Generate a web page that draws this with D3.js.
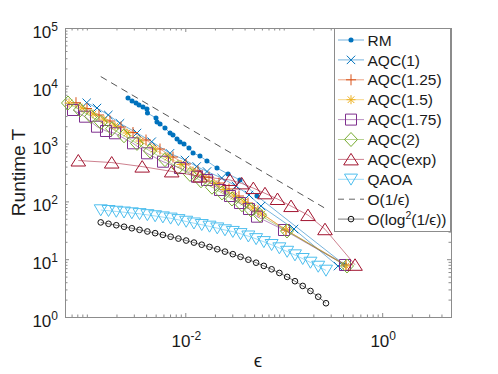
<!DOCTYPE html>
<html>
<head>
<meta charset="utf-8">
<script src="https://cdn.jsdelivr.net/npm/d3@7"></script>
<style>
	body { margin: 0; background: #fff; }
	svg { display: block; font-family: "Liberation Sans", Arial, Helvetica, sans-serif; }
</style>
</head>
<body>
<svg id="chart" width="498" height="374"></svg>
<script>
// Runtime T versus error epsilon, log-log.
// Values.

const rmEps = [2.62e-3, 2.88e-3, 3.16e-3, 3.39e-3, 3.72e-3, 4.08e-3, 4.13e-3, 5.04e-3, 5.16e-3, 5.54e-3,
	6.22e-3, 7.0e-3, 7.5e-3, 8.24e-3, 8.84e-3, 9.7e-3, 1.09e-2, 1.2e-2, 1.41e-2, 1.66e-2,
	2.1e-2, 2.72e-2, 3.59e-2, 5.35e-2, 0.419];
const rmT = [6150, 5460, 5040, 4650, 4300, 3970, 3380, 2770, 2370, 2185,
	1860, 1525, 1410, 1200, 1066, 985, 839, 688, 610, 500,
	378, 298, 235, 124, 7.9];

const aqc1Eps = [9.97e-4, 1.268e-3, 1.652e-3, 2.172e-3, 3.232e-3, 4.56e-3, 6.99e-3, 9.93e-3,
	1.306e-2, 1.662e-2, 2.344e-2, 3.274e-2, 4.437e-2, 5.875e-2, 0.1271, 0.3557];
const aqc1T = [5100, 4130, 3125, 2245, 1526, 1079, 679, 520, 402, 329, 254, 185, 129, 83, 33.3, 7.6];

const aqc125Eps = [7.76e-4, 1.004e-3, 1.329e-3, 1.719e-3, 2.223e-3, 2.944e-3, 3.99e-3, 5.535e-3, 7.5e-3,
	1.017e-2, 1.346e-2, 1.741e-2, 2.2e-2, 2.78e-2, 3.512e-2, 4.334e-2, 5.477e-2, 0.1054, 0.4289];
const aqc125T = [5100, 4049, 3125, 2460, 1938, 1556, 1154, 806, 586, 444, 336, 264, 208, 164, 124, 93.8, 68.2, 32, 7.94];

const aqc15Eps = [6.59e-4, 8.93e-4, 1.155e-3, 1.494e-3, 1.932e-3, 2.558e-3, 3.467e-3, 4.81e-3, 6.675e-3, 9.05e-3,
	1.198e-2, 1.549e-2, 1.957e-2, 2.472e-2, 3.125e-2, 3.947e-2, 4.873e-2, 6.013e-2, 0.1054, 0.4289];
const aqc15T = [5040, 4130, 3252, 2561, 2016, 1526, 1109, 806, 586, 435, 336, 259, 204, 160.7, 124, 97.6, 76.9, 60.5, 32, 7.63];

const aqc175Eps = [7.235e-4, 9.58e-4, 1.268e-3, 1.565e-3, 1.932e-3, 2.944e-3, 4.084e-3, 5.94e-3, 8.84e-3,
	1.315e-2, 1.661e-2, 2.252e-2, 2.845e-2, 3.594e-2, 4.436e-2, 5.35e-2, 0.1006, 0.4189];
const aqc175T = [3814, 2920, 1961, 1652, 1508, 1012, 679.5, 486, 378, 267.5, 234.6, 157.5, 124, 93.8, 73.9, 54.4, 32.0, 7.94];

const aqc2Eps = [6.435e-4, 8.52e-4, 1.102e-3, 1.392e-3, 1.802e-3, 2.385e-3, 3.232e-3, 4.38e-3, 6.22e-3, 8.43e-3,
	1.116e-2, 1.443e-2, 1.867e-2, 2.359e-2, 2.98e-2, 3.767e-2, 4.65e-2, 5.74e-2, 0.1079, 0.4391];
const aqc2T = [5040, 3814, 2943, 2336, 1810, 1365, 1008, 745, 527, 387, 293, 227, 176, 140, 110, 87.3, 71, 57.5, 30.8, 7.63];

const aqcExpEps = [8.19e-4, 1.789e-3, 3.65e-3, 7.28e-3, 1.41e-2, 2.84e-2, 3.74e-2, 4.91e-2, 6.45e-2,
	8.64e-2, 0.1186, 0.1764, 0.2625, 0.53];
const aqcExpT = [510, 470, 400, 330, 270, 235, 205, 170, 138, 110, 83, 58, 33, 8];

// QAOA and the O(log^2) reference share the same epsilon grid
const gridEps = [1.384e-3, 1.66e-3, 1.991e-3, 2.388e-3, 2.864e-3, 3.43e-3, 4.12e-3, 4.94e-3, 5.92e-3, 7.1e-3,
	8.51e-3, 1.021e-2, 1.225e-2, 1.469e-2, 1.762e-2, 2.113e-2, 2.53e-2, 3.04e-2, 3.64e-2, 4.37e-2,
	5.24e-2, 6.28e-2, 7.53e-2, 9.03e-2, 0.1083, 0.13, 0.1559, 0.1868, 0.224, 0.2686];
const qaoaT = [71, 69, 67, 65, 63, 61, 58.5, 56, 53.5, 51, 48, 45, 42, 39.5, 37, 34.5, 32, 30, 27.5, 25,
	22.5, 20, 17.8, 15.6, 13.6, 11.8, 10.2, 8.8, 7.5, 6.4];
const logRefT = [43.3, 40.97, 38.68, 36.45, 34.29, 32.2, 30.16, 28.2, 26.32, 24.49, 22.72, 21.02, 19.38, 17.81,
	16.31, 14.87, 13.52, 12.22, 10.98, 9.81, 8.7, 7.66, 6.69, 5.78, 4.94, 4.16, 3.45, 2.82, 2.24, 1.73];

const invRefEps = [1.384e-3, 0.2686];
const invRefT = [14450, 74.5];

const xMajor = [1e-2, 1];
const yMajor = [1, 10, 100, 1000, 1e4, 1e5];
const xTickExp = ["-2", "0"];
const yTickExp = ["0", "1", "2", "3", "4", "5"];

// ---- layout ----
const W = 498, H = 374;
const box = { left: 65, top: 28, right: 451, bottom: 317 };
const AXIS = "#8c8c8c";
const TXT = "#1a1a1a";

const x = d3.scaleLog().domain([6e-4, 5]).range([box.left, box.right]);
const y = d3.scaleLog().domain([1, 1e5]).range([box.bottom, box.top]);

const svg = d3.select("#chart");
svg.append("rect").attr("width", W).attr("height", H).attr("fill", "#fff");

function minors(scale, majors) {
	const [d0, d1] = scale.domain();
	const out = [];
	for (let p = -5; p <= 6; p++) {
		for (let k = 1; k <= 9; k++) {
			const v = k * Math.pow(10, p);
			if (v > d0 * 1.0001 && v < d1 * 0.9999 && !majors.some(m => Math.abs(m - v) / m < 1e-6)) out.push(v);
		}
	}
	return out;
}

function tidy(g) {
	g.select(".domain").remove();
	g.selectAll(".tick line").attr("stroke", AXIS);
	return g;
}

const axes = svg.append("g");
const xMinor = minors(x, xMajor), yMinor = minors(y, yMajor);
// ticks point inside the box, on all four sides
axes.append("g").attr("transform", `translate(0,${box.bottom})`)
	.call(d3.axisBottom(x).tickValues(xMajor).tickSize(-4).tickFormat("")).call(tidy);
axes.append("g").attr("transform", `translate(0,${box.bottom})`)
	.call(d3.axisBottom(x).tickValues(xMinor).tickSize(-2.5).tickFormat("")).call(tidy);
axes.append("g").attr("transform", `translate(0,${box.top})`)
	.call(d3.axisTop(x).tickValues(xMajor).tickSize(-4).tickFormat("")).call(tidy);
axes.append("g").attr("transform", `translate(0,${box.top})`)
	.call(d3.axisTop(x).tickValues(xMinor).tickSize(-2.5).tickFormat("")).call(tidy);
axes.append("g").attr("transform", `translate(${box.left},0)`)
	.call(d3.axisLeft(y).tickValues(yMajor).tickSize(-4).tickFormat("")).call(tidy);
axes.append("g").attr("transform", `translate(${box.left},0)`)
	.call(d3.axisLeft(y).tickValues(yMinor).tickSize(-2.5).tickFormat("")).call(tidy);
axes.append("g").attr("transform", `translate(${box.right},0)`)
	.call(d3.axisRight(y).tickValues(yMajor).tickSize(-4).tickFormat("")).call(tidy);
axes.append("g").attr("transform", `translate(${box.right},0)`)
	.call(d3.axisRight(y).tickValues(yMinor).tickSize(-2.5).tickFormat("")).call(tidy);

axes.append("rect")
	.attr("x", box.left + 0.5).attr("y", box.top + 0.5)
	.attr("width", box.right - box.left).attr("height", box.bottom - box.top)
	.attr("fill", "none").attr("stroke", AXIS);

// power-of-ten labels
function powLabel(g, px, py, exp, anchor) {
	const t = g.append("text").attr("x", px).attr("y", py)
		.attr("text-anchor", anchor).attr("fill", TXT).attr("font-size", 17);
	t.append("tspan").text("10");
	t.append("tspan").attr("dy", -7.5).attr("font-size", 12).text(exp);
	return t;
}
xMajor.forEach((v, i) => powLabel(axes, x(v) + 1, box.bottom + 30, xTickExp[i], "middle"));
yMajor.forEach((v, i) => powLabel(axes, box.left - 7, y(v) + 10, yTickExp[i], "end"));

axes.append("text").attr("transform", `translate(25,${(box.top + box.bottom) / 2}) rotate(-90)`)
	.attr("text-anchor", "middle").attr("fill", TXT).attr("font-size", 19).text("Runtime T");
axes.append("text").attr("x", (box.left + box.right) / 2).attr("y", 367)
	.attr("text-anchor", "middle").attr("fill", TXT).attr("font-size", 19).text("ϵ");

// ---- markers ----
function marker(g, type, color, cx, cy) {
	const s = g.append("path").attr("transform", `translate(${cx},${cy})`)
		.attr("fill", "none").attr("stroke", color).attr("stroke-width", 1);
	switch (type) {
		case "dot": s.attr("d", d3.symbol(d3.symbolCircle, 20)()).attr("fill", color).attr("stroke", "none"); break;
		case "x": s.attr("d", "M-4.2,-4.2L4.2,4.2M-4.2,4.2L4.2,-4.2"); break;
		case "plus": s.attr("d", "M-5,0L5,0M0,-5.5L0,5.5"); break;
		case "star": s.attr("d", "M-4.5,0L4.5,0M0,-4.5L0,4.5M-3.3,-3.3L3.3,3.3M-3.3,3.3L3.3,-3.3"); break;
		case "square": s.attr("d", "M-5.5,-5.5H5.5V5.5H-5.5Z"); break;
		case "diamond": s.attr("d", "M0,-7L6.5,0L0,7L-6.5,0Z"); break;
		case "triUp": s.attr("d", "M0,-6L7.3,5.5L-7.3,5.5Z"); break;
		case "triDown": s.attr("d", "M0,5.8L6.5,-5.2L-6.5,-5.2Z"); break;
		case "circle": s.attr("d", d3.symbol(d3.symbolCircle, 25)()).attr("stroke", "#111"); break;
	}
}

const series = [
	{ name: "RM", eps: rmEps, T: rmT, color: "#0072BD", marker: "dot" },
	{ name: "AQC(1)", eps: aqc1Eps, T: aqc1T, color: "#0072BD", marker: "x" },
	{ name: "AQC(1.25)", eps: aqc125Eps, T: aqc125T, color: "#D95319", marker: "plus" },
	{ name: "AQC(1.5)", eps: aqc15Eps, T: aqc15T, color: "#EDB120", marker: "star" },
	{ name: "AQC(1.75)", eps: aqc175Eps, T: aqc175T, color: "#7E2F8E", marker: "square" },
	{ name: "AQC(2)", eps: aqc2Eps, T: aqc2T, color: "#77AC30", marker: "diamond" },
	{ name: "AQC(exp)", eps: aqcExpEps, T: aqcExpT, color: "#A2142F", marker: "triUp" },
	{ name: "QAOA", eps: gridEps, T: qaoaT, color: "#4DBEEE", marker: "triDown" },
	{ name: "O(1/ϵ)", eps: invRefEps, T: invRefT, color: "#555555", marker: null, dash: "7,5" },
	{ name: "O(log2(1/ϵ))", eps: gridEps, T: logRefT, color: "#111111", marker: "circle" },
];

const line = d3.line().x(d => x(d[0])).y(d => y(d[1]));
const plotG = svg.append("g");
series.forEach(s => {
	const pts = s.eps.map((e, i) => [e, s.T[i]]);
	plotG.append("path").attr("d", line(pts)).attr("fill", "none")
		.attr("stroke", s.color).attr("stroke-width", s.dash ? 1 : 0.9)
		.attr("stroke-opacity", s.dash ? 1 : 0.6)
		.attr("stroke-dasharray", s.dash || null);
	if (s.marker) pts.forEach(p => marker(plotG, s.marker, s.color, x(p[0]), y(p[1])));
});

// ---- legend ----
const leg = svg.append("g");
leg.append("rect").attr("x", 334.5).attr("y", box.top + 0.5).attr("width", 116).attr("height", 203)
	.attr("fill", "#fff").attr("stroke", AXIS);
series.forEach((s, i) => {
	const ry = 40 + i * 19.9;
	leg.append("line").attr("x1", 338).attr("x2", 364).attr("y1", ry).attr("y2", ry)
		.attr("stroke", s.color).attr("stroke-width", 0.9)
		.attr("stroke-opacity", s.dash ? 1 : 0.6).attr("stroke-dasharray", s.dash ? "6,5" : null);
	if (s.marker) marker(leg, s.marker, s.color, 351, ry);
	const t = leg.append("text").attr("x", 367.5).attr("y", ry + 5.6)
		.attr("fill", TXT).attr("font-size", 15.5);
	if (s.name.startsWith("O(log2")) {
		t.append("tspan").text("O(log");
		t.append("tspan").attr("dy", -6).attr("font-size", 10.5).text("2");
		t.append("tspan").attr("dy", 6).text("(1/ϵ))");
	} else {
		t.text(s.name);
	}
});
</script>
</body>
</html>
